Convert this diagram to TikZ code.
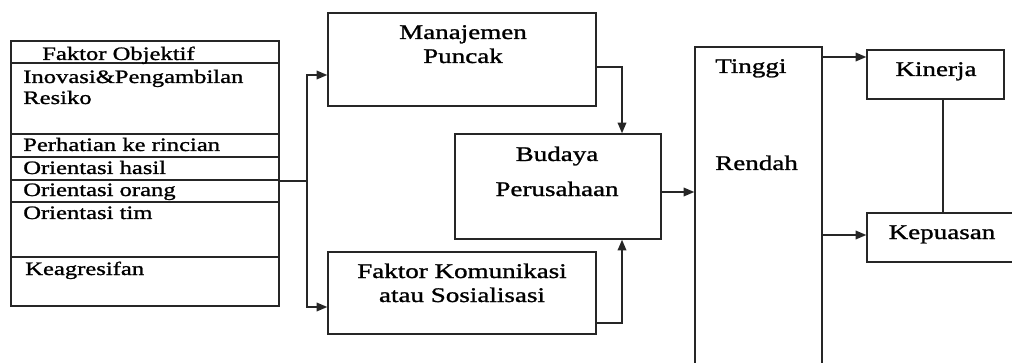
\documentclass[tikz,border=0pt]{standalone}
\usepackage{fontspec}
\setmainfont{Liberation Serif}[FakeStretch=1.3,FakeBold=1.2]
\usetikzlibrary{arrows.meta,fit}
\begin{document}
\begin{tikzpicture}[x=0.75pt,y=-0.75pt,
  box/.style={draw=black!85, line width=1.1pt, inner sep=0pt, fit={#1}},
  ln/.style={draw=black!85, line width=1.1pt},
  arr/.style={ln, -{Triangle[length=8pt,width=6.5pt]}},
  lt/.style={font=\fontsize{14.2pt}{16pt}\selectfont, anchor=base west, inner sep=0pt},
  mt/.style={font=\fontsize{15.6pt}{18pt}\selectfont, anchor=base, inner sep=0pt},
  rt/.style={font=\fontsize{15.6pt}{18pt}\selectfont, anchor=base west, inner sep=0pt}]
\useasboundingbox (0,0) rectangle (1012,363);
\clip (0,0) rectangle (1012,363);
% left factor box
\node[box={(11,41)(279,306)}] (fo) {};
\foreach \yy in {63,134,157,180,202,257}
  \draw[ln] (fo.west |- 0,\yy) -- (fo.east |- 0,\yy);
\node[lt] (t0) at (42,60) {Faktor Objektif};
\node[lt] (t1) at (23,83) {Inovasi\&Pengambilan};
\node[lt] (t2) at (23,104) {Resiko};
\node[lt] (t3) at (23,151) {Perhatian ke rincian};
\node[lt] (t4) at (23,174) {Orientasi hasil};
\node[lt] (t5) at (23,196) {Orientasi orang};
\node[lt] (t6) at (23,219) {Orientasi tim};
\node[lt] (t7) at (25,275) {Keagresifan};
% middle boxes
\node[box={(328,13)(596,106)}] (man) {};
\node[mt] (mant1) at (463,39) {Manajemen};
\node[mt] (mant2) at (463,63) {Puncak};
\node[box={(455,134)(661,239)}] (bud) {};
\node[mt] (budt1) at (557,161) {Budaya};
\node[mt] (budt2) at (557,196) {Perusahaan};
\node[box={(328,252)(596,334)}] (kom) {};
\node[mt] (komt1) at (462,278) {Faktor Komunikasi};
\node[mt] (komt2) at (462,302) {atau Sosialisasi};
% tall box
\node[box={(695,47)(822,380)}] (tall) {};
\node[rt] (tt1) at (715,73) {Tinggi};
\node[rt] (tt2) at (715,170) {Rendah};
% right boxes
\node[box={(867,50)(1004,99)}] (kin) {};
\node[mt] (kint) at (936,76) {Kinerja};
\node[box={(867,213)(1030,262)}] (kep) {};
\node[mt] (kept) at (942,239) {Kepuasan};
% connectors
\coordinate (j) at (307,181);
\coordinate (ja) at (307,75);
\coordinate (jb) at (307,307);
\draw[ln] (fo.east |- j) -- (j);
\draw[arr] (j) |- (man.west |- ja);
\draw[arr] (j) |- (kom.west |- jb);
\coordinate (mb) at (622,67);
\coordinate (kb) at (622,323);
\draw[arr] (man.east |- mb) -- (mb) -- (mb |- bud.north);
\draw[arr] (kom.east |- kb) -- (kb) -- (kb |- bud.south);
\coordinate (bt) at (661,192);
\draw[arr] (bud.east |- bt) -- (tall.west |- bt);
\coordinate (tk) at (822,57);
\coordinate (tp) at (822,235);
\draw[arr] (tall.east |- tk) -- (kin.west |- tk);
\draw[arr] (tall.east |- tp) -- (kep.west |- tp);
\coordinate (kk) at (943,150);
\draw[ln] (kk |- kin.south) -- (kk |- kep.north);
\end{tikzpicture}
\end{document}
